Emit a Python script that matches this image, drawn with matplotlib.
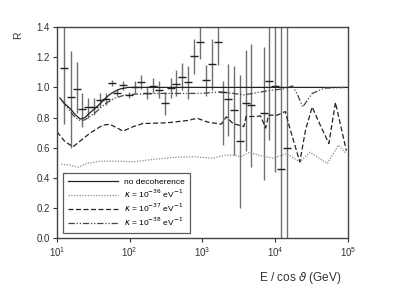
import numpy as np
import matplotlib
matplotlib.use("Agg")
from matplotlib import pyplot as plt

plt.rcParams['font.family'] = ['Liberation Sans', 'DejaVu Sans']

# data points: log10(E/cos theta), R, lower end, upper end of the bar
pt_logE = [1.100, 1.188, 1.270, 1.350, 1.433, 1.515, 1.598, 1.680, 1.752, 1.825,
           1.907, 1.990, 2.070, 2.155, 2.237, 2.320, 2.400, 2.480, 2.563, 2.640,
           2.720, 2.805, 2.883, 2.966, 3.044, 3.126, 3.210, 3.280, 3.355, 3.435,
           3.515, 3.605, 3.675, 3.850, 3.920, 4.005, 4.085, 4.160]
pt_R = [1.126, 0.935, 0.990, 0.855, 0.870, 0.870, 0.915, 0.920, 1.030, 0.960,
        1.013, 0.950, 1.000, 1.035, 0.965, 1.010, 0.980, 0.898, 0.993, 1.022,
        1.066, 1.033, 1.210, 1.300, 1.048, 1.155, 1.300, 0.970, 0.920, 0.850,
        0.645, 0.898, 0.880, 0.827, 1.044, 1.009, 0.456, 0.600]
pt_lo = [0.76, 0.60, 0.83, 0.74, 0.80, 0.82, 0.87, 0.88, 1.01, 0.94,
         0.98, 0.93, 0.96, 0.99, 0.92, 0.96, 0.93, 0.82, 0.93, 0.94,
         0.98, 0.92, 1.09, 1.19, 0.94, 0.98, 1.15, 0.62, 0.68, 0.55,
         0.20, 0.58, 0.47, 0.385, 0.65, 0.44, -0.1, -0.1]
pt_hi = [1.50, 1.24, 1.17, 0.96, 0.93, 0.93, 0.96, 0.96, 1.05, 0.99,
         1.04, 0.97, 1.04, 1.08, 1.01, 1.06, 1.04, 0.97, 1.06, 1.115,
         1.16, 1.14, 1.32, 1.40, 1.15, 1.32, 1.44, 1.04, 1.155, 1.145,
         1.08, 1.25, 1.285, 1.27, 1.50, 1.50, 1.50, 1.50]

# model curves (log10 E, R)
nodec_logE = [1.04, 1.11, 1.18, 1.25, 1.32, 1.385, 1.45, 1.52, 1.59, 1.66,
              1.73, 1.80, 1.87, 1.98, 2.5, 3.0, 3.5, 4.0, 4.5, 5.0]
nodec_R = [0.93, 0.89, 0.86, 0.82, 0.79, 0.80, 0.83, 0.86, 0.89, 0.925,
           0.955, 0.975, 0.99, 1.0, 1.0, 1.0, 1.0, 1.0, 1.0, 1.0]

k38_logE = [1.07, 1.15, 1.25, 1.32, 1.385, 1.52, 1.66, 1.80, 1.94, 2.07,
            2.42, 2.97, 3.25, 3.43, 3.57, 3.75, 3.93, 4.11, 4.24, 4.31,
            4.38, 4.51, 4.68, 4.98]
k38_R = [0.91, 0.86, 0.80, 0.78, 0.785, 0.83, 0.89, 0.93, 0.95, 0.955,
         0.96, 0.96, 0.97, 0.96, 0.95, 0.965, 0.98, 0.99, 1.01, 0.95,
         0.87, 0.96, 0.995, 1.0]

k37_logE = [1.0, 1.11, 1.22, 1.45, 1.63, 1.73, 1.91, 2.05, 2.18, 2.51,
            2.79, 2.93, 3.07, 3.26, 3.33, 3.42, 3.57, 3.60, 3.80, 3.87,
            3.91, 4.03, 4.14, 4.22, 4.34, 4.42, 4.51, 4.62, 4.74, 4.83, 4.98]
k37_R = [0.705, 0.64, 0.606, 0.695, 0.75, 0.755, 0.71, 0.74, 0.76, 0.765,
         0.78, 0.795, 0.77, 0.756, 0.805, 0.76, 0.74, 0.805, 0.81, 0.73,
         0.816, 0.816, 0.84, 0.70, 0.506, 0.72, 0.87, 0.75, 0.628, 0.90, 0.58]

k36_logE = [1.06, 1.18, 1.29, 1.41, 1.59, 1.86, 2.05, 2.28, 2.60, 2.88,
            3.14, 3.31, 3.44, 3.53, 3.65, 3.77, 3.97, 4.16, 4.34, 4.48,
            4.72, 4.87, 4.98]
k36_R = [0.49, 0.484, 0.47, 0.495, 0.51, 0.51, 0.506, 0.52, 0.535, 0.54,
         0.53, 0.55, 0.55, 0.54, 0.57, 0.55, 0.53, 0.56, 0.506, 0.57,
         0.495, 0.617, 0.56]

leg_labels = ['no decoherence',
              r'$\kappa$ = 10$^{-36}$ eV$^{-1}$',
              r'$\kappa$ = 10$^{-37}$ eV$^{-1}$',
              r'$\kappa$ = 10$^{-38}$ eV$^{-1}$']

fig = plt.figure(figsize=(3.93, 2.95), dpi=100)
ax = fig.add_axes([0.145, 0.193, 0.740, 0.715])

E = 10 ** np.array(pt_logE)
R = np.array(pt_R)
yerr = [R - np.array(pt_lo), np.array(pt_hi) - R]
ax.errorbar(E, R, yerr=yerr, fmt='none', ecolor='#707070', elinewidth=1.0, capsize=0)
ax.plot(E, R, ls='none', marker='_', ms=6, mew=1.0, color='#222222')

ax.plot(10 ** np.array(nodec_logE), nodec_R, color='#222222', lw=0.9, label=leg_labels[0])
ax.plot(10 ** np.array(k36_logE), k36_R, color='#888888', lw=0.9, ls=(0, (1, 1.2)), label=leg_labels[1])
ax.plot(10 ** np.array(k37_logE), k37_R, color='#222222', lw=0.9, ls=(0, (4, 2)), label=leg_labels[2])
ax.plot(10 ** np.array(k38_logE), k38_R, color='#444444', lw=0.9,
        ls=(0, (5, 1.5, 1, 1.5, 1, 1.5)), label=leg_labels[3])

ax.set_xscale('log')
ax.set_xlim(10, 1e5)
ax.set_ylim(0, 1.4)
ax.set_yticks([0.0, 0.2, 0.4, 0.6, 0.8, 1.0, 1.2, 1.4])
ax.set_yticklabels(['0.0', '0.2', '0.4', '0.6', '0.8', '1.0', '1.2', '1.4'])
ax.minorticks_off()
ax.tick_params(direction='out', length=3, width=0.8, labelsize=7,
               colors='#333333', pad=2)

for s in ax.spines.values():
    s.set_color('#444444')
    s.set_linewidth(1.0)

ax.set_ylabel('R', fontsize=7.5, color='#333333', rotation=90)
ax.yaxis.set_label_coords(-0.118, 0.962)
ax.set_xlabel(r'E / cos $\vartheta$ (GeV)', fontsize=8.5, color='#333333', ha='right')
ax.xaxis.set_label_coords(0.979, -0.15)

leg = ax.legend(loc='lower left', fontsize=6, frameon=True, fancybox=False,
                handlelength=6, borderpad=0.6, labelspacing=0.2,
                bbox_to_anchor=(0.005, 0.005))
leg.get_frame().set_edgecolor('#333333')
leg.get_frame().set_linewidth(0.9)

fig.savefig('out.png', dpi=100)
